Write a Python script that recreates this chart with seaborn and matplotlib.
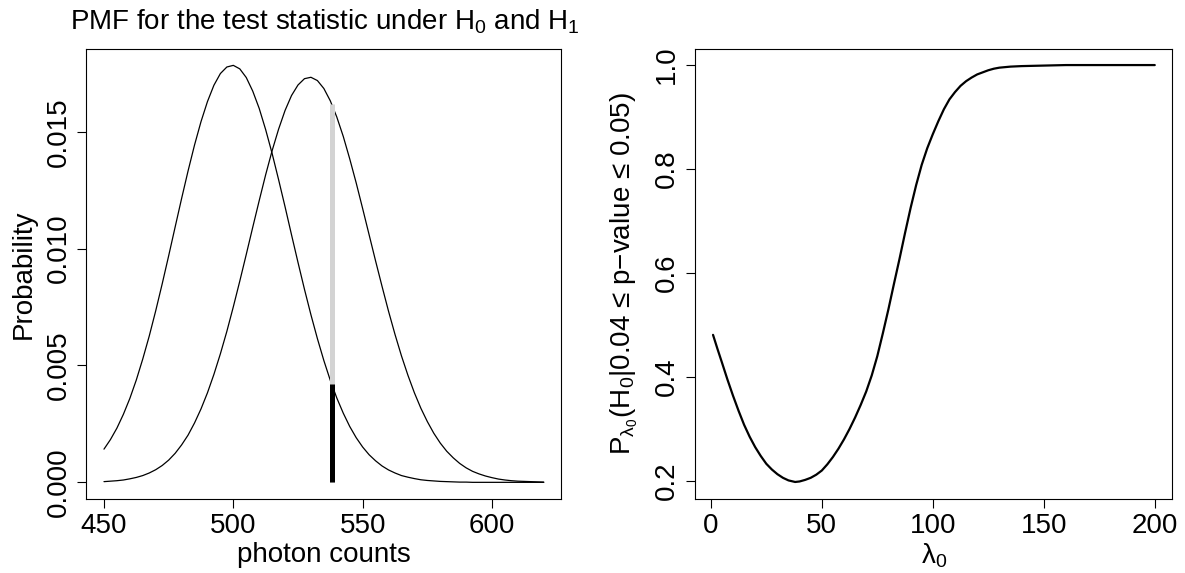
import matplotlib
matplotlib.use("Agg")
import matplotlib.pyplot as plt
import seaborn as sns

# --- left panel: pmf of the test statistic ---
counts = [450, 452.5, 455, 457.5, 460, 462.5, 465, 467.5, 470, 472.5, 475,
          477.5, 480, 482.5, 485, 487.5, 490, 492.5, 495, 497.5, 500, 502.5,
          505, 507.5, 510, 512.5, 515, 517.5, 520, 522.5, 525, 527.5, 530,
          532.5, 535, 537.5, 540, 542.5, 545, 547.5, 550, 552.5, 555, 557.5,
          560, 562.5, 565, 567.5, 570, 572.5, 575, 577.5, 580, 582.5, 585,
          587.5, 590, 592.5, 595, 597.5, 600, 602.5, 605, 607.5, 610, 612.5,
          615, 617.5, 620]
pmf_h0 = [0.00142, 0.00183, 0.00232, 0.00291, 0.00359, 0.00438, 0.00528,
          0.00626, 0.00734, 0.00849, 0.00969, 0.01092, 0.01214, 0.01332,
          0.01443, 0.01543, 0.01629, 0.01699, 0.01749, 0.01777, 0.01784,
          0.01769, 0.01732, 0.01674, 0.01600, 0.01509, 0.01407, 0.01295,
          0.01179, 0.01059, 0.00941, 0.00826, 0.00717, 0.00615, 0.00521,
          0.00436, 0.00361, 0.00296, 0.00239, 0.00191, 0.00151, 0.00118,
          0.00092, 0.00070, 0.00053, 0.00040, 0.00029, 0.00022, 0.00016,
          0.00011, 0.00008, 0.00006, 0.00004, 0.00003, 0.00002, 0.00001,
          0.00001, 0.0, 0.0, 0.0, 0.0, 0.0, 0.0, 0.0, 0.0, 0.0, 0.0, 0.0,
          0.0]
pmf_h1 = [0.00003, 0.00005, 0.00007, 0.00010, 0.00015, 0.00021, 0.00029,
          0.00040, 0.00054, 0.00072, 0.00095, 0.00124, 0.00160, 0.00202,
          0.00254, 0.00314, 0.00383, 0.00462, 0.00550, 0.00646, 0.00751,
          0.00861, 0.00975, 0.01091, 0.01205, 0.01316, 0.01419, 0.01511,
          0.01591, 0.01655, 0.01700, 0.01727, 0.01733, 0.01719, 0.01685,
          0.01632, 0.01563, 0.01480, 0.01384, 0.01281, 0.01171, 0.01059,
          0.00947, 0.00838, 0.00732, 0.00633, 0.00541, 0.00458, 0.00383,
          0.00317, 0.00260, 0.00210, 0.00168, 0.00133, 0.00105, 0.00081,
          0.00062, 0.00047, 0.00036, 0.00027, 0.00020, 0.00014, 0.00010,
          0.00007, 0.00005, 0.00004, 0.00003, 0.00002, 0.00001]
obs_count = 538
obs_p_h0 = 0.0042
obs_p_h1 = 0.0162

# --- right panel: P(H0 | 0.04 <= p <= 0.05) vs lambda0 ---
lam0 = [1, 3, 5, 7.5, 10, 12.5, 15, 17.5, 20, 22.5, 25, 27.5, 30, 32.5, 35,
        38, 40, 42.5, 45, 47.5, 50, 52.5, 55, 57.5, 60, 62.5, 65, 67.5, 70,
        72.5, 75, 77.5, 80, 82.5, 85, 87.5, 90, 92.5, 95, 97.5, 100, 102.5,
        105, 107.5, 110, 112.5, 115, 117.5, 120, 122.5, 125, 127.5, 130,
        135, 140, 150, 160, 180, 200]
prob_h0 = [0.481, 0.454, 0.428, 0.395, 0.364, 0.335, 0.308, 0.285, 0.265,
           0.248, 0.233, 0.222, 0.213, 0.206, 0.201, 0.198, 0.199, 0.202,
           0.206, 0.212, 0.220, 0.232, 0.246, 0.262, 0.280, 0.300, 0.322,
           0.346, 0.372, 0.403, 0.440, 0.484, 0.530, 0.579, 0.627, 0.677,
           0.725, 0.769, 0.808, 0.840, 0.867, 0.892, 0.915, 0.934, 0.948,
           0.960, 0.969, 0.976, 0.982, 0.986, 0.990, 0.993, 0.995, 0.997,
           0.998, 0.999, 1.0, 1.0, 1.0]

left_xticks = [450, 500, 550, 600]
left_yticks = [0.0, 0.005, 0.010, 0.015]
right_xticks = [0, 50, 100, 150, 200]
right_yticks = [0.2, 0.4, 0.6, 0.8, 1.0]

sns.set_style("ticks")
plt.rcParams["font.family"] = ["Liberation Sans", "DejaVu Sans"]
plt.rcParams["mathtext.default"] = "regular"
for key in ["text.color", "axes.labelcolor", "xtick.color", "ytick.color",
            "axes.edgecolor"]:
    plt.rcParams[key] = "black"
FS = 20

fig = plt.figure(figsize=(11.85, 5.73), dpi=100)
ax1 = fig.add_axes([0.0729, 0.1291, 0.4008, 0.7862])
ax2 = fig.add_axes([0.5868, 0.1291, 0.4026, 0.7862])

sns.lineplot(x=counts, y=pmf_h0, ax=ax1, color="black", lw=0.9)
sns.lineplot(x=counts, y=pmf_h1, ax=ax1, color="black", lw=0.9)
ax1.vlines(obs_count, 0, obs_p_h1, color="#d3d3d3", lw=3.6)
ax1.vlines(obs_count, 0, obs_p_h0, color="black", lw=3.6)
ax1.set_xlim(443.2, 626.8)
ax1.set_ylim(-0.000714, 0.01856)
ax1.set_xticks(left_xticks)
ax1.set_yticks(left_yticks)
ax1.set_yticklabels(["%.3f" % v for v in left_yticks])
ax1.set_xlabel("photon counts", fontsize=FS)
ax1.set_ylabel("Probability", fontsize=FS)
ax1.xaxis.set_label_coords(0.5, -0.095)
ax1.yaxis.set_label_coords(-0.105, 0.5)

sns.lineplot(x=lam0, y=prob_h0, ax=ax2, color="black", lw=1.6)
ax2.set_xlim(-6.96, 207.96)
ax2.set_ylim(0.1652, 1.0318)
ax2.set_xticks(right_xticks)
ax2.set_yticks(right_yticks)
ax2.set_yticklabels(["%.1f" % v for v in right_yticks])
ax2.set_xlabel("λ$_0$", fontsize=FS)
ax2.set_ylabel("P$_{λ_0}$(H$_0$|0.04 ≤ p−value ≤ 0.05)", fontsize=FS)
ax2.xaxis.set_label_coords(0.5, -0.095)
ax2.yaxis.set_label_coords(-0.116, 0.5)

for ax in (ax1, ax2):
    for s in ax.spines.values():
        s.set_visible(True)
        s.set_linewidth(0.8)
        s.set_color("black")
    ax.tick_params(axis="both", direction="out", length=6.2, width=0.8,
                   colors="black", labelsize=FS)
    ax.tick_params(axis="x", pad=3.6)
    ax.tick_params(axis="y", pad=4.6, labelrotation=90)
    for t in ax.get_yticklabels():
        t.set_va("center")
    ax.grid(False)

fig.text(325 / 1185, 1 - 29 / 573,
         "PMF for the test statistic under H$_0$ and H$_1$",
         ha="center", va="baseline", fontsize=FS)

fig.savefig("out.png", dpi=100)
